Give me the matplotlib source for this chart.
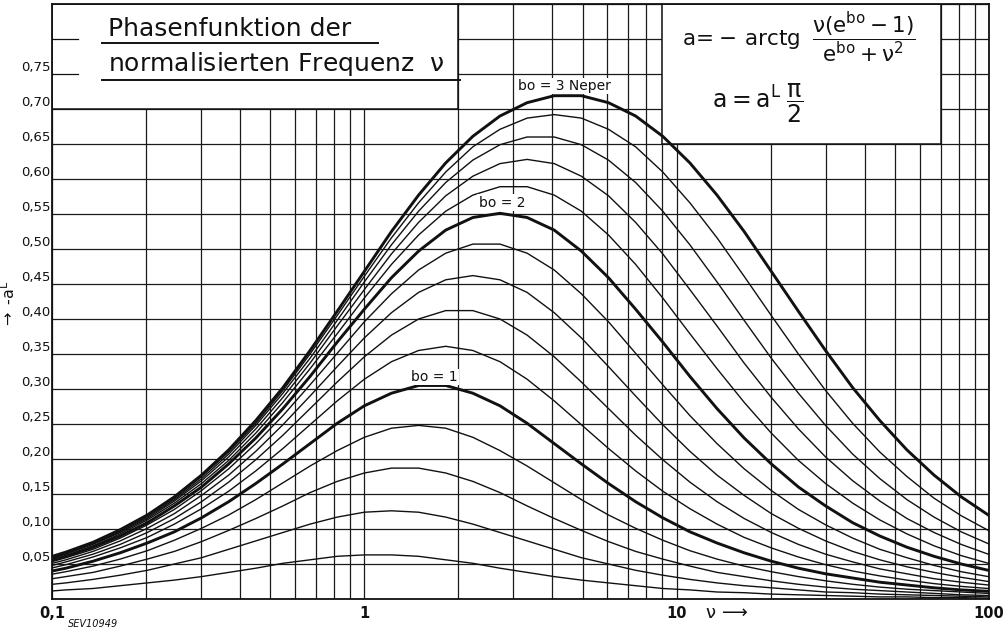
import matplotlib
matplotlib.use("Agg")
import matplotlib.pyplot as plt
from matplotlib.patches import Rectangle
from matplotlib.lines import Line2D
from matplotlib.ticker import LogLocator, MultipleLocator, NullFormatter
from matplotlib.transforms import blended_transform_factory

plt.rcParams['font.family'] = ['DejaVu Sans']
plt.rcParams['mathtext.default'] = 'regular'

# normalised frequency nu (sample points along the log axis)
nu = [0.0907, 0.1108, 0.1353, 0.1653, 0.2019, 0.2466, 0.3012, 0.3679, 0.4493,
      0.5488, 0.6703, 0.8187, 1.0, 1.2214, 1.4918, 1.8221, 2.2255, 2.7183,
      3.3201, 4.0552, 4.953, 6.0496, 7.3891, 9.025, 11.023, 13.464, 16.445,
      20.086, 24.533, 29.964, 36.598, 44.701, 54.598, 66.686, 81.451, 99.484,
      121.51]

# -a^L for each b0 (Neper)
a_b0_02 = [0.010, 0.013, 0.015, 0.019, 0.023, 0.027, 0.032, 0.038, 0.044, 0.051, 0.056, 0.061, 0.063,
           0.063, 0.061, 0.056, 0.051, 0.044, 0.038, 0.032, 0.027, 0.023, 0.019, 0.015, 0.013, 0.010,
           0.009, 0.007, 0.006, 0.005, 0.004, 0.003, 0.003, 0.002, 0.002, 0.001, 0.001]
a_b0_04 = [0.019, 0.023, 0.028, 0.034, 0.041, 0.050, 0.059, 0.071, 0.083, 0.095, 0.107, 0.117, 0.124,
           0.126, 0.124, 0.117, 0.107, 0.095, 0.083, 0.071, 0.059, 0.050, 0.041, 0.034, 0.028, 0.023,
           0.019, 0.016, 0.013, 0.010, 0.009, 0.007, 0.006, 0.005, 0.004, 0.003, 0.003]
a_b0_06 = [0.026, 0.032, 0.038, 0.047, 0.057, 0.068, 0.082, 0.098, 0.115, 0.133, 0.152, 0.168, 0.180,
           0.187, 0.187, 0.180, 0.168, 0.152, 0.133, 0.115, 0.098, 0.082, 0.068, 0.057, 0.047, 0.038,
           0.032, 0.026, 0.021, 0.017, 0.014, 0.012, 0.010, 0.008, 0.006, 0.005, 0.004]
a_b0_08 = [0.032, 0.039, 0.047, 0.057, 0.069, 0.084, 0.101, 0.120, 0.142, 0.166, 0.190, 0.212, 0.231,
           0.244, 0.248, 0.244, 0.231, 0.212, 0.190, 0.166, 0.142, 0.120, 0.101, 0.084, 0.069, 0.057,
           0.047, 0.039, 0.032, 0.026, 0.021, 0.017, 0.014, 0.012, 0.010, 0.008, 0.006]
a_b0_10 = [0.036, 0.044, 0.054, 0.066, 0.080, 0.096, 0.116, 0.139, 0.165, 0.193, 0.222, 0.251, 0.276,
           0.294, 0.305, 0.305, 0.294, 0.276, 0.251, 0.222, 0.193, 0.165, 0.139, 0.116, 0.096, 0.080,
           0.066, 0.054, 0.044, 0.036, 0.030, 0.024, 0.020, 0.016, 0.013, 0.011, 0.009]
a_b0_12 = [0.040, 0.049, 0.060, 0.073, 0.088, 0.107, 0.129, 0.154, 0.183, 0.215, 0.249, 0.283, 0.314,
           0.339, 0.355, 0.361, 0.355, 0.339, 0.314, 0.283, 0.249, 0.215, 0.183, 0.154, 0.129, 0.107,
           0.088, 0.073, 0.060, 0.049, 0.040, 0.033, 0.027, 0.022, 0.018, 0.015, 0.012]
a_b0_14 = [0.043, 0.053, 0.064, 0.078, 0.095, 0.115, 0.139, 0.167, 0.199, 0.234, 0.272, 0.310, 0.346,
           0.377, 0.400, 0.412, 0.412, 0.400, 0.377, 0.346, 0.310, 0.272, 0.234, 0.199, 0.167, 0.139,
           0.115, 0.095, 0.078, 0.064, 0.053, 0.043, 0.036, 0.029, 0.024, 0.020, 0.016]
a_b0_16 = [0.046, 0.056, 0.068, 0.083, 0.101, 0.122, 0.148, 0.177, 0.211, 0.249, 0.290, 0.332, 0.373,
           0.409, 0.438, 0.456, 0.462, 0.456, 0.438, 0.409, 0.373, 0.332, 0.290, 0.249, 0.211, 0.177,
           0.148, 0.122, 0.101, 0.083, 0.068, 0.056, 0.046, 0.038, 0.031, 0.025, 0.021]
a_b0_18 = [0.048, 0.059, 0.071, 0.087, 0.106, 0.128, 0.155, 0.186, 0.222, 0.262, 0.306, 0.351, 0.396,
           0.436, 0.470, 0.494, 0.507, 0.507, 0.494, 0.470, 0.436, 0.396, 0.351, 0.306, 0.262, 0.222,
           0.186, 0.155, 0.128, 0.106, 0.087, 0.071, 0.059, 0.048, 0.039, 0.032, 0.026]
a_b0_20 = [0.050, 0.061, 0.074, 0.090, 0.109, 0.133, 0.160, 0.193, 0.230, 0.272, 0.318, 0.367, 0.414,
           0.459, 0.497, 0.527, 0.545, 0.551, 0.545, 0.527, 0.497, 0.459, 0.414, 0.367, 0.318, 0.272,
           0.230, 0.193, 0.160, 0.133, 0.109, 0.090, 0.074, 0.061, 0.050, 0.041, 0.033]
a_b0_22 = [0.051, 0.062, 0.076, 0.093, 0.113, 0.137, 0.165, 0.198, 0.237, 0.281, 0.329, 0.379, 0.430,
           0.478, 0.520, 0.554, 0.577, 0.589, 0.589, 0.577, 0.554, 0.520, 0.478, 0.430, 0.379, 0.329,
           0.281, 0.237, 0.198, 0.165, 0.137, 0.113, 0.093, 0.076, 0.062, 0.051, 0.042]
a_b0_24 = [0.052, 0.064, 0.078, 0.095, 0.115, 0.140, 0.169, 0.203, 0.243, 0.288, 0.337, 0.390, 0.442,
           0.493, 0.538, 0.576, 0.604, 0.622, 0.628, 0.622, 0.604, 0.576, 0.538, 0.493, 0.442, 0.390,
           0.337, 0.288, 0.243, 0.203, 0.169, 0.140, 0.115, 0.095, 0.078, 0.064, 0.052]
a_b0_26 = [0.053, 0.065, 0.079, 0.096, 0.117, 0.142, 0.172, 0.207, 0.248, 0.294, 0.344, 0.398, 0.453,
           0.506, 0.554, 0.595, 0.627, 0.649, 0.660, 0.660, 0.649, 0.627, 0.595, 0.554, 0.506, 0.453,
           0.398, 0.344, 0.294, 0.248, 0.207, 0.172, 0.142, 0.117, 0.096, 0.079, 0.065]
a_b0_28 = [0.054, 0.066, 0.080, 0.098, 0.119, 0.144, 0.175, 0.210, 0.251, 0.298, 0.350, 0.405, 0.461,
           0.516, 0.566, 0.610, 0.646, 0.671, 0.687, 0.692, 0.687, 0.671, 0.646, 0.610, 0.566, 0.516,
           0.461, 0.405, 0.350, 0.298, 0.251, 0.210, 0.175, 0.144, 0.119, 0.098, 0.080]
a_b0_30 = [0.055, 0.067, 0.081, 0.099, 0.120, 0.146, 0.177, 0.213, 0.255, 0.302, 0.355, 0.411, 0.468,
           0.525, 0.577, 0.623, 0.661, 0.690, 0.709, 0.719, 0.719, 0.709, 0.690, 0.661, 0.623, 0.577,
           0.525, 0.468, 0.411, 0.355, 0.302, 0.255, 0.213, 0.177, 0.146, 0.120, 0.099]

curves = [a_b0_02, a_b0_04, a_b0_06, a_b0_08, a_b0_10, a_b0_12, a_b0_14, a_b0_16,
          a_b0_18, a_b0_20, a_b0_22, a_b0_24, a_b0_26, a_b0_28, a_b0_30]
thick = [a_b0_10, a_b0_20, a_b0_30]

y_ticks = [0.05, 0.10, 0.15, 0.20, 0.25, 0.30, 0.35, 0.40, 0.45, 0.50, 0.55, 0.60, 0.65, 0.70, 0.75]
y_labels = ['0,05', '0,10', '0,15', '0,20', '0,25', '0,30', '0,35', '0,40', '0,45', '0,50',
            '0,55', '0,60', '0,65', '0,70', '0,75']
x_ticks = [0.1, 1, 10, 100]
x_labels = ['0,1', '1', '10', '100']

fig = plt.figure(figsize=(10.05, 6.3), dpi=100)
ax = fig.add_axes([52 / 1005, 31 / 630, 937 / 1005, 595 / 630])
ax.set_xscale('log')
ax.set_xlim(0.1, 100)
ax.set_ylim(0, 0.85)

ax.xaxis.set_major_locator(LogLocator(base=10, numticks=10))
ax.xaxis.set_minor_locator(LogLocator(base=10, subs=range(2, 10), numticks=40))
ax.xaxis.set_minor_formatter(NullFormatter())
ax.yaxis.set_major_locator(MultipleLocator(0.05))
ax.tick_params(which='both', length=0, labelleft=False, labelbottom=False)
ax.set_axisbelow(True)
ax.grid(which='both', color='#1a1a1a', lw=0.9)
for sp in ax.spines.values():
    sp.set_linewidth(1.3)
    sp.set_color('#111111')

# white boxes for title and formula
ax.add_patch(Rectangle((0.1, 0.70), 2 - 0.1, 0.15, fc='white', ec='#111111', lw=1.1, zorder=1.5))
ax.add_patch(Rectangle((9, 0.65), 70 - 9, 0.20, fc='white', ec='#111111', lw=1.1, zorder=1.5))
ax.axhline(0.80, 0, 0.028, color='#111111', lw=0.9, zorder=1.6)
ax.axhline(0.75, 0, 0.028, color='#111111', lw=0.9, zorder=1.6)

for c in curves:
    lw = 2.1 if any(c is t for t in thick) else 1.0
    ax.plot(nu, c, color='#111111', lw=lw, zorder=3, solid_capstyle='butt')

lbl = dict(fontsize=10, ha='center', va='center', color='#111111', zorder=4,
           bbox=dict(fc='white', ec='none', pad=1.0))
ax.text(1.67, 0.317, 'bo = 1', **lbl)
ax.text(2.76, 0.566, 'bo = 2', **lbl)
ax.text(4.36, 0.733, 'bo = 3 Neper', **lbl)

ytr = blended_transform_factory(ax.transAxes, ax.transData)
for v, s in zip(y_ticks, y_labels):
    ax.text(-0.002, v, s, transform=ytr, ha='right', va='bottom', fontsize=9.5, color='#111111')
xtr = blended_transform_factory(ax.transData, ax.transAxes)
for v, s in zip(x_ticks, x_labels):
    ax.text(v, -0.012, s, transform=xtr, ha='center', va='top', fontsize=10.5,
            fontweight='bold', color='#111111', clip_on=False)

# title
fig.text(108 / 1005, 1 - 29 / 630, 'Phasenfunktion der', fontsize=18, va='center', color='#111111')
fig.text(108 / 1005, 1 - 64 / 630, r'normalisierten Frequenz  $\nu$', fontsize=18, va='center',
         color='#111111')
fig.add_artist(Line2D([102 / 1005, 378 / 1005], [1 - 43 / 630] * 2, color='#111111', lw=1.4))
fig.add_artist(Line2D([102 / 1005, 460 / 1005], [1 - 80 / 630] * 2, color='#111111', lw=1.4))

# formula
fig.text(682 / 1005, 1 - 38 / 630, r'$a\!=\!-\,arctg\;\;\dfrac{\nu(e^{bo}-1)}{e^{bo}+\nu^{2}}$',
         fontsize=15.5, va='center', color='#111111')
fig.text(712 / 1005, 1 - 103 / 630, r'$a = a^{L}\;\dfrac{\pi}{2}$', fontsize=17, va='center',
         color='#111111')

# axis labels
fig.text(9 / 1005, 1 - 305 / 630, r'$\rightarrow$ -a$^{L}$', rotation=90, fontsize=11.5,
         ha='center', va='center', color='#111111')
fig.text(705 / 1005, 1 - 613 / 630, r'$\nu\,\longrightarrow$', fontsize=13, va='center',
         color='#111111')
fig.text(68 / 1005, 1 - 624 / 630, 'SEV10949', fontsize=7, style='italic', va='center',
         color='#111111')

fig.savefig('out.png', dpi=100, facecolor='white')
